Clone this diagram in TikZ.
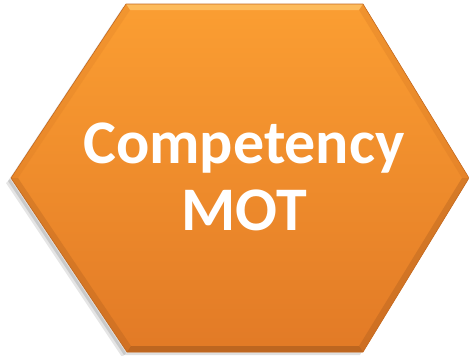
\documentclass[tikz,border=0pt]{standalone}
\usepackage{fontspec}
\setmainfont{Carlito}
\usepackage{tikz}
\usetikzlibrary{positioning}
\definecolor{hextop}{RGB}{251,158,50}
\definecolor{hexbot}{RGB}{226,122,38}
\definecolor{hexrim}{RGB}{196,104,30}
\definecolor{hexlight}{RGB}{255,200,110}
\definecolor{hexdark}{RGB}{160,86,28}
\begin{document}
\begin{tikzpicture}[x=1pt,y=-1pt,join=round] % Hexagon with label
        \useasboundingbox (0,0) rectangle (469,356);
        % corners, outer and inner rim
        \coordinate (tl) at (126,4);   \coordinate (tr) at (363,4);
        \coordinate (r)  at (469,178); \coordinate (br) at (363,352);
        \coordinate (bl) at (127,352); \coordinate (l)  at (11,178);
        \coordinate (itl) at (130,10);  \coordinate (itr) at (359,10);
        \coordinate (ir)  at (462,178); \coordinate (ibr) at (359,346);
        \coordinate (ibl) at (131,346); \coordinate (il)  at (18,178);
        % shadow
        \fill[black,opacity=0.12]([shift={(-3,3)}]tl)--([shift={(-3,3)}]tr)--([shift={(-3,3)}]r)--([shift={(-3,3)}]br)--([shift={(-3,3)}]bl)--([shift={(-3,3)}]l)--cycle;
        \fill[black,opacity=0.10]([shift={(-5,5)}]bl)--([shift={(-5,5)}]l)--([shift={(-1,1)}]l)--([shift={(-1,1)}]bl)--cycle;
        % body
        \shade[top color=hextop,bottom color=hexbot](tl)--(tr)--(r)--(br)--(bl)--(l)--cycle;
        % rim
        \fill[hexlight,opacity=0.7](tl)--(tr)--(itr)--(itl)--cycle;
        \fill[hexdark,opacity=0.55](bl)--(br)--(ibr)--(ibl)--cycle;
        \fill[hexrim,opacity=0.2](tr)--(r)--(ir)--(itr)--cycle;
        \fill[hexrim,opacity=0.15](tl)--(l)--(il)--(itl)--cycle;
        \fill[hexdark,opacity=0.3](r)--(br)--(ibr)--(ir)--cycle;
        \fill[hexdark,opacity=0.25](l)--(bl)--(ibl)--(il)--cycle;
        \draw[hexrim,line width=0.6pt](tl)--(tr)--(r)--(br)--(bl)--(l)--cycle;
        % label
        \node[white,font=\fontsize{62}{67}\selectfont\bfseries,align=center] (label) at (244,177) {Competency\\MOT};
\end{tikzpicture}
\end{document}
